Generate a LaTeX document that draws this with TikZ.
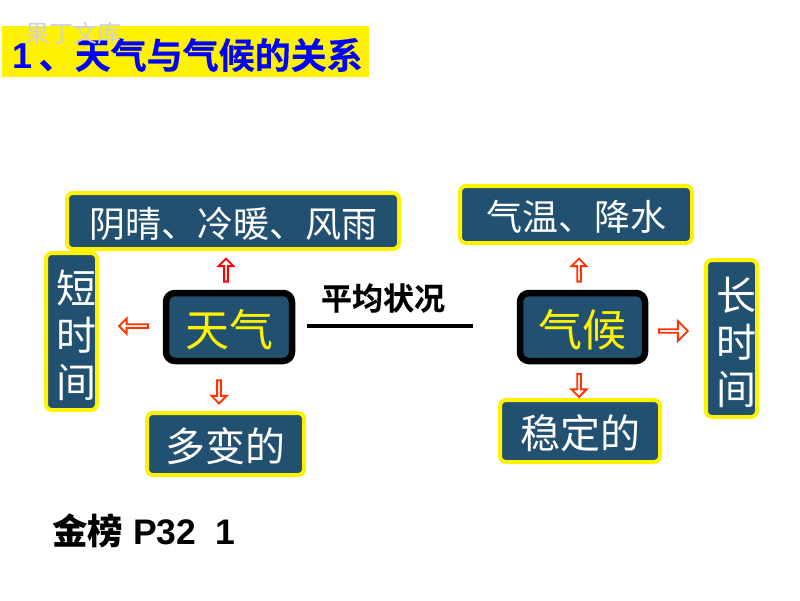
\documentclass[tikz,border=0pt]{standalone}
\usepackage{fontspec}
\usetikzlibrary{shapes.arrows,calc}
\setmainfont{Liberation Sans}
\newfontfamily\cjk{Noto Sans CJK SC}
\newfontfamily\cjkb[FakeBold=0.25]{Noto Sans CJK SC Bold}
\newfontfamily\cjkh[FakeBold=0.3]{Noto Sans CJK SC Black}
\newfontfamily\cjkm{Noto Sans CJK SC Medium}
\definecolor{boxblue}{HTML}{215070}
\definecolor{arroworange}{HTML}{FF3300}
\tikzset{
  x=1pt,y=-1pt,
  panel/.style={draw=yellow,line width=4pt,fill=boxblue,rounded corners=6pt,inner sep=0pt,text=white,align=center},
  core/.style={draw=black,line width=6.5pt,fill=boxblue,rounded corners=9pt,inner sep=0pt,text=yellow,align=center},
  blockarrow/.style={single arrow,draw=#1,fill=white,line width=1.9pt,inner sep=0pt,minimum width=15pt,single arrow head extend=3pt,minimum height=23pt,single arrow tip angle=90},
}
\newcommand{\panelat}[7]{% name, x1, y1, x2, y2, style, text
  \node[#6,minimum width=#4pt-#2pt,minimum height=#5pt-#3pt] (#1) at ({(#2+#4)/2},{(#3+#5)/2}) {#7};}
\newcommand{\dn}[1]{\raisebox{-2.5pt}[\height][\depth]{#1}}
\newcommand{\dnr}[1]{\raisebox{-3.5pt}[\height][\depth]{\hspace*{10pt}#1}}
\begin{document}
\begin{tikzpicture}
\useasboundingbox (0,0) rectangle (800,600);
\node[fill=yellow,minimum width=367pt,minimum height=51pt,inner sep=0pt] (titlebar) at (185.5,51.5) {};
\node[anchor=west,inner sep=0pt,text=blue,font=\fontsize{36pt}{36pt}\selectfont\bfseries] (title) at (12,55) {1\hspace{6.5pt}\cjkh 、天气与气候的关系};
\node[anchor=center,inner sep=0pt,text=black!18,font=\cjk\fontsize{24pt}{24pt}\selectfont] (mark) at (73,33) {果丁文库};

\panelat{weatherTop}{67}{193}{399}{249}{panel,font=\cjk\fontsize{36pt}{36pt}\selectfont}{\dn{阴晴、冷暖、风雨}}
\panelat{weatherLeft}{46}{253}{97}{410}{panel,font=\cjk\fontsize{40pt}{47pt}\selectfont}{\dnr{短}\\\dnr{时}\\\dnr{间}}
\panelat{weatherCore}{166}{293}{292}{361}{core,font=\cjk\fontsize{44pt}{44pt}\selectfont}{\dn{天气}}
\panelat{weatherBottom}{147}{413}{304}{475}{panel,font=\cjk\fontsize{40pt}{40pt}\selectfont}{\dn{多变的}}

\panelat{climateTop}{460}{186}{692}{243}{panel,font=\cjk\fontsize{36pt}{36pt}\selectfont}{\dn{气温、降水}}
\panelat{climateCore}{520}{293}{645}{361}{core,font=\cjk\fontsize{44pt}{44pt}\selectfont}{\dn{气候}}
\panelat{climateBottom}{500}{400}{660}{462}{panel,font=\cjk\fontsize{40pt}{40pt}\selectfont}{\dn{稳定的}}
\panelat{climateRight}{706}{260}{757}{417}{panel,font=\cjk\fontsize{40pt}{47pt}\selectfont}{\dnr{长}\\\dnr{时}\\\dnr{间}}

\node[blockarrow=red,shape border rotate=90] (a1) at (226,271) {};
\node[blockarrow=arroworange,shape border rotate=180,minimum height=29pt] (a2) at (134.5,326) {};
\node[blockarrow=arroworange,shape border rotate=270] (a3) at (219,391) {};
\node[blockarrow=arroworange,shape border rotate=90] (a4) at (579,271) {};
\node[blockarrow=arroworange,minimum height=29pt,minimum width=20pt,single arrow head extend=4.5pt] (a5) at (672.5,331) {};
\node[blockarrow=arroworange,shape border rotate=270] (a6) at (579,384.5) {};

\coordinate (lineL) at (307,326);
\coordinate (lineR) at (473,326);
\draw[line width=3.5pt,black] (lineL) -- (lineR);
\node[inner sep=0pt,font=\cjkb\fontsize{31pt}{31pt}\selectfont] (avg) at (383,298) {平均状况};
\node[anchor=west,inner sep=0pt,font=\fontsize{35.5pt}{36pt}\selectfont\bfseries] (ref) at (52,531) {{\cjkm 金榜} P32\ \ 1};
\end{tikzpicture}
\end{document}
